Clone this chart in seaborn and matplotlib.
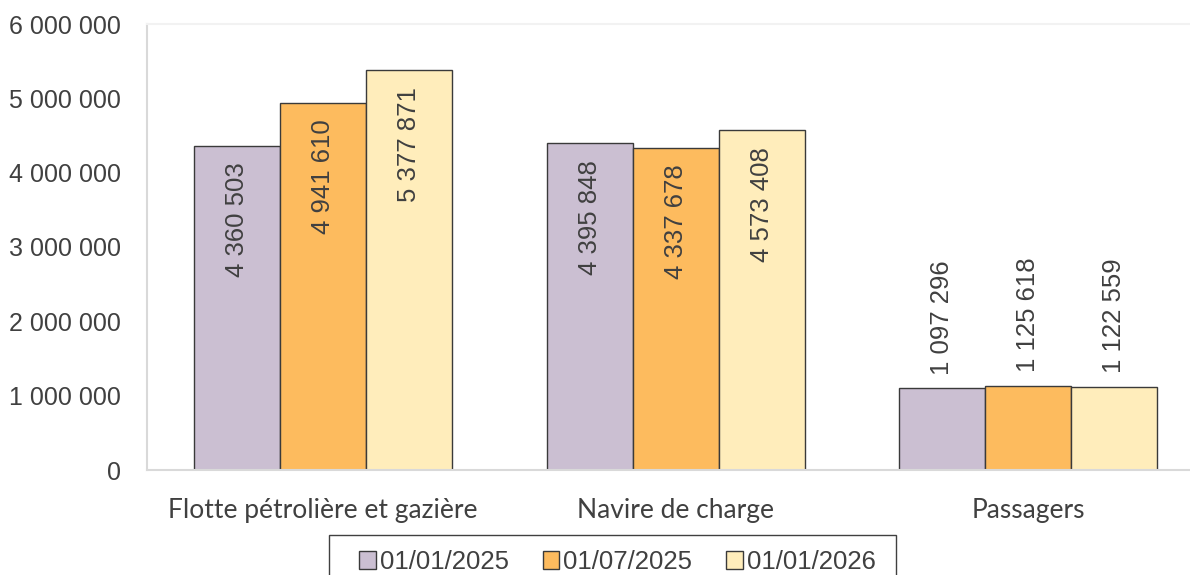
import matplotlib
matplotlib.use("Agg")
import matplotlib.pyplot as plt
import seaborn as sns
import pandas as pd
from matplotlib.patches import Patch, Rectangle

categories = ["Flotte pétrolière et gazière", "Navire de charge", "Passagers"]
series_names = ["01/01/2025", "01/07/2025", "01/01/2026"]
values_2025_01 = [4360503, 4395848, 1097296]
values_2025_07 = [4941610, 4337678, 1125618]
values_2026_01 = [5377871, 4573408, 1122559]
colors = ["#CBBFD2", "#FDBB5E", "#FFEDBB"]
yticks = [0, 1000000, 2000000, 3000000, 4000000, 5000000, 6000000]

rows = []
for s, vals in zip(series_names, [values_2025_01, values_2025_07, values_2026_01]):
    for c, v in zip(categories, vals):
        rows.append({"cat": c, "serie": s, "val": v})
df = pd.DataFrame(rows)

sns.set_theme(style="white")
plt.rcParams["font.family"] = ["Liberation Sans", "DejaVu Sans"]

fig = plt.figure(figsize=(11.9, 5.75), dpi=100)
ax = fig.add_axes([147/1190, 1-470/575, (1204.5-147)/1190, (470-24)/575])

sns.barplot(data=df, x="cat", y="val", hue="serie", order=categories,
            hue_order=series_names, palette=colors, width=0.732,
            edgecolor="#3A3A3A", linewidth=1.0, ax=ax, legend=False,
            saturation=1)

ax.set_xlim(-0.5, 2.5)
ax.set_ylim(0, 6000000)
ax.set_yticks(yticks)
ax.set_yticklabels([f"{v:,}".replace(",", " ") for v in yticks])
ax.tick_params(axis="y", length=0, pad=19, labelsize=18, labelcolor="#404040")
ax.tick_params(axis="x", length=0, pad=20, labelcolor="#404040")
for lab in ax.get_xticklabels():
    lab.set_fontfamily(["Lato", "DejaVu Sans"])
    lab.set_fontsize(19)
ax.set_xlabel("")
ax.set_ylabel("")
ax.grid(False)
for side in ["left", "bottom"]:
    ax.spines[side].set_color("#D9D9D9")
    ax.spines[side].set_linewidth(1.5)
ax.spines["top"].set_color("#F2F2F2")
ax.spines["top"].set_linewidth(1.5)
ax.spines["right"].set_visible(False)

fmt = lambda v: f"{int(v):,}".replace(",", " ")
for cont in ax.containers:
    for bar in cont:
        h = bar.get_height()
        xc = bar.get_x() + bar.get_width() / 2
        if h > 2000000:
            ax.annotate(fmt(h), (xc, h), xytext=(0, -12), textcoords="offset points",
                        rotation=90, ha="center", va="top", fontsize=18.5, color="#404040")
        else:
            ax.annotate(fmt(h), (xc, h), xytext=(0, 10), textcoords="offset points",
                        rotation=90, ha="center", va="bottom", fontsize=18.5, color="#404040")

handles = [Patch(facecolor=c, edgecolor="#3A3A3A", linewidth=1.0) for c in colors]
leg = fig.legend(handles, series_names, loc="center",
                 bbox_to_anchor=(617.5/1190, 1-562/575), ncol=3, frameon=False,
                 fontsize=18.5, handlelength=0.65, handleheight=0.65,
                 handletextpad=0.15, columnspacing=1.32, borderpad=0,
                 labelcolor="#404040", borderaxespad=0)
fig.add_artist(Rectangle((329/1190, -0.1), 567/1190, (1-535/575)+0.1,
                         transform=fig.transFigure, fill=False,
                         edgecolor="#404040", linewidth=1.0))

fig.savefig("out.png", dpi=100)
